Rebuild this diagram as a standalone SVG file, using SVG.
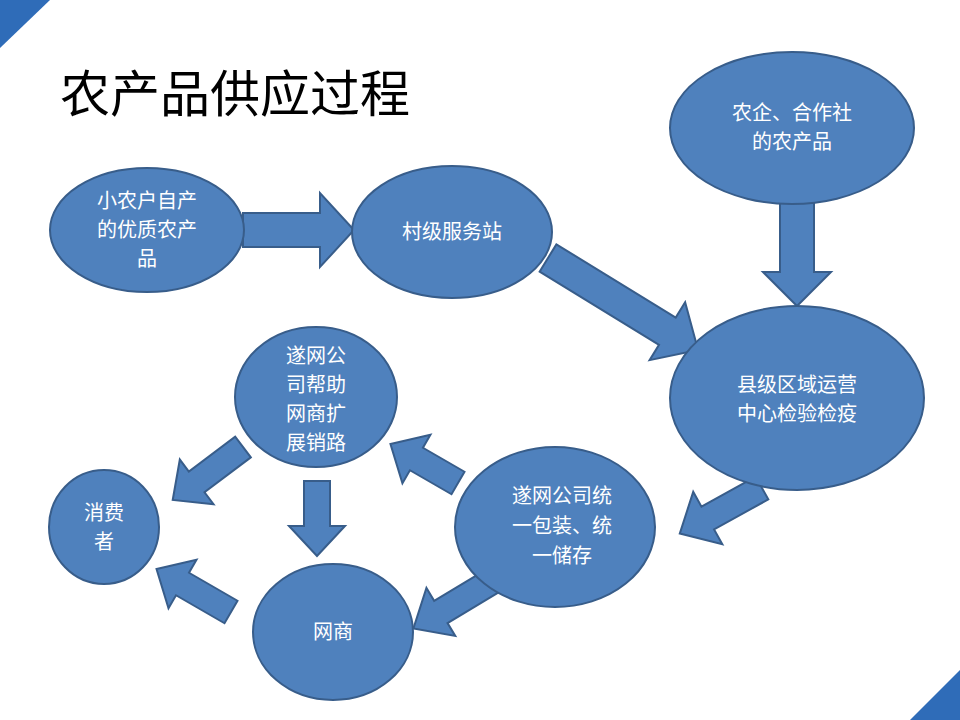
<svg xmlns="http://www.w3.org/2000/svg" width="960" height="720" viewBox="0 0 960 720">
<defs>
<style>
.n{fill:#4F81BD;stroke:#385D8A;stroke-width:2}
.a{fill:#4F81BD;stroke:#385D8A;stroke-width:2}
.t{fill:#fff;font-family:"Liberation Sans","Noto Sans CJK SC",sans-serif;font-size:20px;text-anchor:middle}
.c{fill:#2F6CB8}
</style>
</defs>
<rect width="960" height="720" fill="#fff"/>
<polygon class="c" points="0,0 50,0 0,48"/>
<polygon class="c" points="960,670 960,720 910,720"/>
<text x="60" y="112" font-family="'Noto Sans CJK SC',sans-serif" font-size="50" fill="#000">农产品供应过程</text>
<g id="connectors">
<path class="a" transform="translate(243,230)" d="M0,-17 H77 V-37 L111,0 L77,37 V17 H0 Z"/>
<path class="a" transform="translate(548,258) rotate(31.5)" d="M0,-16 H140 V-34 L176,0 L140,34 V16 H0 Z"/>
<path class="a" transform="translate(797,203) rotate(90)" d="M0,-17 H69 V-34 L103,0 L69,34 V17 H0 Z"/>
<path class="a" transform="translate(762,488) rotate(151)" d="M0,-13 H62 V-30 L94,0 L62,30 V13 H0 Z"/>
<path class="a" transform="translate(458,483) rotate(-150)" d="M0,-13 H48 V-28 L78,0 L48,28 V13 H0 Z"/>
<path class="a" transform="translate(494,580) rotate(149)" d="M0,-13 H62 V-28 L94,0 L62,28 V13 H0 Z"/>
<path class="a" transform="translate(243,447) rotate(143)" d="M0,-13 H58 V-28 L88,0 L58,28 V13 H0 Z"/>
<path class="a" transform="translate(317,481) rotate(90)" d="M0,-13 H45 V-28 L75,0 L45,28 V13 H0 Z"/>
<path class="a" transform="translate(231,612) rotate(-150)" d="M0,-13 H56 V-28 L86,0 L56,28 V13 H0 Z"/>
</g>
<g id="n1"><ellipse class="n" cx="147" cy="230" rx="97" ry="62"/><text class="t"><tspan x="147" y="208">小农户自产</tspan><tspan x="147" y="237">的优质农产</tspan><tspan x="147" y="266">品</tspan></text></g>
<g id="n2"><ellipse class="n" cx="452" cy="232" rx="100" ry="66"/><text class="t" x="452" y="239">村级服务站</text></g>
<g id="n3"><ellipse class="n" cx="792" cy="128" rx="122" ry="76"/><text class="t"><tspan x="792" y="120">农企、合作社</tspan><tspan x="792" y="149">的农产品</tspan></text></g>
<g id="n4"><ellipse class="n" cx="797" cy="398" rx="127" ry="92"/><text class="t"><tspan x="797" y="392">县级区域运营</tspan><tspan x="797" y="421">中心检验检疫</tspan></text></g>
<g id="n5"><ellipse class="n" cx="555" cy="527" rx="100" ry="80"/><text class="t"><tspan x="562" y="503">遂网公司统</tspan><tspan x="562" y="533">一包装、统</tspan><tspan x="562" y="563">一储存</tspan></text></g>
<g id="n6"><ellipse class="n" cx="316" cy="397" rx="81" ry="70"/><text class="t"><tspan x="316" y="363">遂网公</tspan><tspan x="316" y="392">司帮助</tspan><tspan x="316" y="421">网商扩</tspan><tspan x="316" y="450">展销路</tspan></text></g>
<g id="n7"><ellipse class="n" cx="104" cy="527" rx="55" ry="57"/><text class="t"><tspan x="104" y="520">消费</tspan><tspan x="104" y="549">者</tspan></text></g>
<g id="n8"><ellipse class="n" cx="333" cy="632" rx="80" ry="68"/><text class="t" x="333" y="639">网商</text></g>
</svg>
